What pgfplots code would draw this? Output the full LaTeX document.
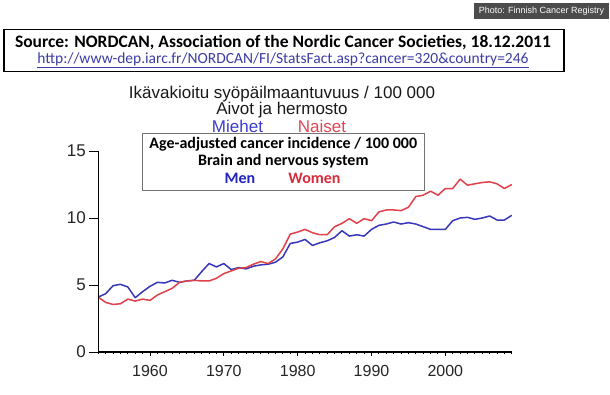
\documentclass[border=0pt]{standalone}
\usepackage{fontspec}
\setmainfont{Liberation Sans}
\newfontfamily\calfont{Carlito}
\usepackage{pgfplots}
\usepackage{pgfplotstable}
\pgfplotsset{compat=1.18}
\definecolor{menblue}{RGB}{55,55,185}
\definecolor{womred}{RGB}{225,65,75}
\definecolor{miehet}{RGB}{60,60,205}
\definecolor{naiset}{RGB}{222,70,85}
\definecolor{mentxt}{RGB}{35,35,190}
\definecolor{womtxt}{RGB}{215,45,60}
\definecolor{urlcol}{RGB}{60,60,165}

\pgfplotstableread{
year men women
1953 4.1  4.1
1954 4.35 3.7
1955 4.95 3.55
1956 5.05 3.6
1957 4.85 3.95
1958 4.05 3.8
1959 4.5  3.95
1960 4.9  3.85
1961 5.2  4.25
1962 5.15 4.5
1963 5.35 4.75
1964 5.2  5.2
1965 5.3  5.3
1966 5.35 5.35
1967 6.0  5.3
1968 6.6  5.3
1969 6.35 5.5
1970 6.6  5.85
1971 6.15 6.05
1972 6.3  6.25
1973 6.2  6.3
1974 6.4  6.55
1975 6.5  6.75
1976 6.55 6.6
1977 6.7  6.95
1978 7.1  7.7
1979 8.1  8.8
1980 8.2  8.95
1981 8.4  9.15
1982 7.95 8.9
1983 8.15 8.75
1984 8.3  8.75
1985 8.55 9.35
1986 9.05 9.6
1987 8.65 9.95
1988 8.75 9.6
1989 8.65 9.95
1990 9.15 9.8
1991 9.45 10.45
1992 9.55 10.6
1993 9.7  10.6
1994 9.55 10.55
1995 9.65 10.8
1996 9.55 11.6
1997 9.35 11.7
1998 9.15 12.0
1999 9.15 11.7
2000 9.15 12.2
2001 9.8  12.2
2002 10.0 12.9
2003 10.05 12.45
2004 9.9  12.55
2005 10.0 12.65
2006 10.15 12.7
2007 9.85 12.55
2008 9.85 12.2
2009 10.2 12.5
}\datatable

\begin{document}
\begin{tikzpicture}
\path[use as bounding box] (0pt,0pt) rectangle (610pt,395pt);

% photo credit
\fill[black!70] (474pt,376pt) rectangle (609pt,392pt);
\node[text=white,font=\fontsize{9}{10}\selectfont] at (541.5pt,384pt) {Photo: Finnish Cancer Registry};

% source box
\draw[line width=1.5pt] (4pt,323.5pt) rectangle (564pt,365.5pt);
\node[font=\calfont\bfseries\fontsize{17.5}{19}\selectfont] at (283pt,352pt) {Source: NORDCAN, Association of the Nordic Cancer Societies, 18.12.2011};
\node[font=\calfont\fontsize{15.5}{17}\selectfont, text=urlcol] at (283pt,335pt) {\underline{http://www-dep.iarc.fr/NORDCAN/FI/StatsFact.asp?cancer=320\&country=246}};

% Finnish title
\node[font=\fontsize{17}{19}\selectfont, text=black!90] at (282pt,301pt) {Ikävakioitu syöpäilmaantuvuus / 100 000};
\node[font=\fontsize{17}{19}\selectfont, text=black!90] at (282pt,285pt) {Aivot ja hermosto};
\node[font=\fontsize{17}{19}\selectfont, text=miehet] at (237.5pt,269pt) {Miehet};
\node[font=\fontsize{17}{19}\selectfont, text=naiset] at (322pt,269pt) {Naiset};

% main axis with x ticks and data
\begin{axis}[at={(98.3pt,43pt)}, anchor=south west, scale only axis,
  width=413.5pt, height=201pt,
  xmin=1953, xmax=2009, ymin=0, ymax=15,
  axis x line=bottom, axis y line=left,
  axis line style={-, line width=1.2pt, black},
  xtick={1960,1970,1980,1990,2000},
  minor xtick={1953,...,2009},
  ytick=\empty,
  tick align=outside, major tick length=4pt, minor tick length=2.5pt,
  every tick/.style={black, line width=0.9pt},
  xticklabel style={font=\fontsize{16}{18}\selectfont, text=black!85, yshift=-6pt},
  /pgf/number format/1000 sep={},
  /pgf/number format/assume math mode=true,
  clip=false]
\addplot[menblue, line width=1.5pt, line join=round, no markers] table[x=year, y=men] {\datatable};
\addplot[womred, line width=1.5pt, line join=round, no markers] table[x=year, y=women] {\datatable};
\end{axis}

% overlay axis for y ticks
\begin{axis}[at={(98.3pt,43pt)}, anchor=south west, scale only axis,
  width=413.5pt, height=201pt,
  xmin=1953, xmax=2009, ymin=0, ymax=15,
  hide x axis, axis y line=left,
  axis line style={-, line width=1.3pt, black},
  ytick={0,5,10,15},
  tick align=outside, major tick length=9pt,
  every tick/.style={black, line width=0.9pt},
  yticklabel style={font=\fontsize{17}{19}\selectfont, text=black!85},
  /pgf/number format/assume math mode=true]
\end{axis}

% English box
\draw[black!55, line width=0.9pt, fill=white] (142.7pt,205pt) rectangle (424pt,262pt);
\node[font=\calfont\bfseries\fontsize{16}{18}\selectfont] at (283.3pt,251pt) {Age-adjusted cancer incidence / 100 000};
\node[font=\calfont\bfseries\fontsize{16}{18}\selectfont] at (283.3pt,233.5pt) {Brain and nervous system};
\node[font=\calfont\bfseries\fontsize{16}{18}\selectfont, text=mentxt] at (240pt,216.5pt) {Men};
\node[font=\calfont\bfseries\fontsize{16}{18}\selectfont, text=womtxt] at (314.5pt,216.5pt) {Women};
\end{tikzpicture}
\end{document}
